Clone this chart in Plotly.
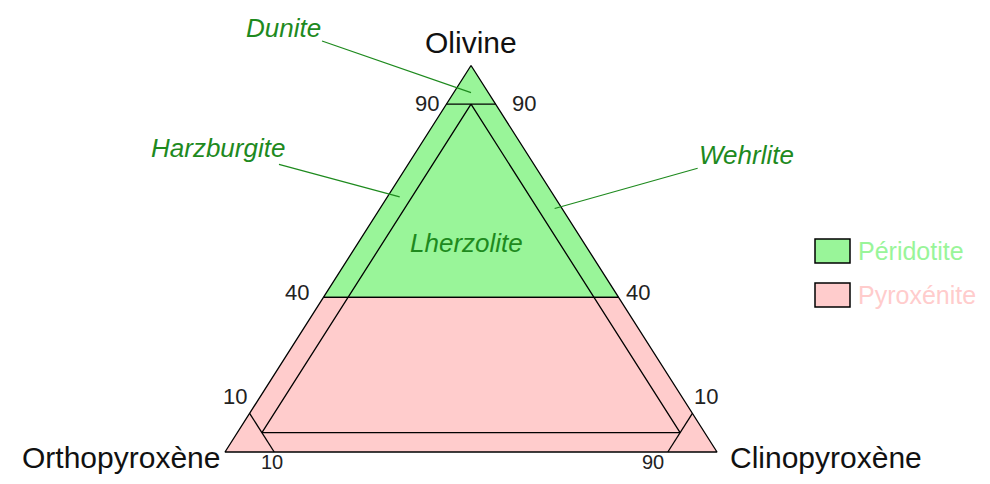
import plotly.graph_objects as go

# compositions in % : olivine, orthopyroxene, clinopyroxene
corner_names = ["Olivine", "Orthopyroxène", "Clinopyroxène"]
corner_ol = [100, 0, 0]
corner_opx = [0, 100, 0]
corner_cpx = [0, 0, 100]

# field polygons
peridotite_ol = [100, 40, 40, 100]
peridotite_opx = [0, 60, 0, 0]
peridotite_cpx = [0, 0, 60, 0]

pyroxenite_ol = [40, 0, 0, 40, 40]
pyroxenite_opx = [60, 100, 0, 0, 60]
pyroxenite_cpx = [0, 0, 100, 60, 0]

# boundary lines (None breaks the segments)
bound_ol = [90, 90, None, 10, 0, None, 10, 0, None, 90, 5, 5, 90]
bound_opx = [10, 0, None, 90, 90, None, 0, 10, None, 5, 90, 5, 5]
bound_cpx = [0, 10, None, 0, 10, None, 90, 90, None, 5, 5, 90, 5]

# edge tick labels
tick_text = ["90", "90", "40", "40", "10", "10", "10", "90"]
tick_ol = [90, 90, 40, 40, 10, 10, 0, 0]
tick_opx = [10, 0, 60, 0, 90, 0, 90, 10]
tick_cpx = [0, 10, 0, 60, 0, 90, 10, 90]

# rock names and the point each one refers to
rock_names = ["Dunite", "Harzburgite", "Lherzolite", "Wehrlite"]
rock_ol = [93, 66, 54, 63]
rock_opx = [3.5, 31.5, 24, 1.5]
rock_cpx = [3.5, 2.5, 22, 35.5]

legend_names = ["Péridotite", "Pyroxénite"]

GREEN = "#99F599"
PINK = "#FFCCCC"
DARK_GREEN = "#1E8A1E"
FONT = "Liberation Sans, Arial, sans-serif"
W, H = 974, 468  # page body has an 8px margin


def to_xy(ol, opx, cpx):
    # ternary -> cartesian, Opx corner at x=0, Cpx corner at x=100
    xs, ys = [], []
    for a, b, c in zip(ol, opx, cpx):
        if a is None:
            xs.append(None)
            ys.append(None)
            continue
        s = a + b + c
        xs.append(100 * (c + a / 2) / s)
        ys.append(100 * a / s)
    return xs, ys


fig = go.Figure()

x, y = to_xy(peridotite_ol, peridotite_opx, peridotite_cpx)
fig.add_trace(go.Scatter(x=x, y=y, fill="toself", fillcolor=GREEN, mode="lines",
                         line=dict(color="black", width=1.3), name=legend_names[0],
                         hoverinfo="skip"))
x, y = to_xy(pyroxenite_ol, pyroxenite_opx, pyroxenite_cpx)
fig.add_trace(go.Scatter(x=x, y=y, fill="toself", fillcolor=PINK, mode="lines",
                         line=dict(color="black", width=1.3), name=legend_names[1],
                         hoverinfo="skip"))

x, y = to_xy(bound_ol, bound_opx, bound_cpx)
fig.add_trace(go.Scatter(x=x, y=y, mode="lines", line=dict(color="black", width=1.3),
                         hoverinfo="skip"))

# tick labels, nudged off their edge points
tick_shift = [(-19, 1), (28, 1), (-26, 5), (19, 5), (-15, 17), (14, 17), (-2, -10), (-15, -10)]
tick_size = [22, 22, 22, 22, 22, 22, 20, 20]
x, y = to_xy(tick_ol, tick_opx, tick_cpx)
for t, xi, yi, (dx, dy), fs in zip(tick_text, x, y, tick_shift, tick_size):
    fig.add_annotation(x=xi, y=yi, text=t, showarrow=False, xshift=dx, yshift=dy,
                       font=dict(family=FONT, size=fs, color="#222222"))

x, y = to_xy(corner_ol, corner_opx, corner_cpx)
corner_pos = [("center", "middle", 0, 23), ("right", "middle", -3, -5), ("left", "middle", 11, -5)]
for name, xi, yi, (xa, ya, dx, dy) in zip(corner_names, x, y, corner_pos):
    fig.add_annotation(x=xi, y=yi, text=name, showarrow=False, xanchor=xa, yanchor=ya,
                       xshift=dx, yshift=dy, font=dict(family=FONT, size=30, color="#111111"))

# rock names, three of them with a leader line
offsets = {"Dunite": (-188, -65), "Harzburgite": (-182, -49), "Wehrlite": (192, -54)}
x, y = to_xy(rock_ol, rock_opx, rock_cpx)
for name, xi, yi in zip(rock_names, x, y):
    ax, ay = offsets.get(name, (0, 0))
    fig.add_annotation(x=xi, y=yi, text=f"<i>{name}</i>", showarrow=name in offsets,
                       ax=ax, ay=ay, arrowhead=0, arrowwidth=1.2, arrowcolor=DARK_GREEN,
                       standoff=0, font=dict(family=FONT, size=26, color=DARK_GREEN))

# legend drawn by hand to get the big boxes
for i, (name, col) in enumerate(zip(legend_names, [GREEN, PINK])):
    top = 231 + 44 * i
    fig.add_shape(type="rect", xref="paper", yref="paper",
                  x0=807 / W, x1=842 / W, y0=1 - (top + 24) / H, y1=1 - top / H,
                  fillcolor=col, line=dict(color="black", width=1.5))
    fig.add_annotation(xref="paper", yref="paper", x=848 / W, y=1 - (top + 12) / H,
                       xanchor="left", yanchor="middle", showarrow=False, text=name,
                       font=dict(family=FONT, size=25, color=col))

fig.update_xaxes(range=[-44.11, 153.86], visible=False)
fig.update_yaxes(range=[-6.21, 114.88], visible=False)
fig.update_layout(width=W, height=H, margin=dict(l=0, r=0, t=0, b=0),
                  plot_bgcolor="white", paper_bgcolor="white", showlegend=False)

fig.write_html("out.html")
